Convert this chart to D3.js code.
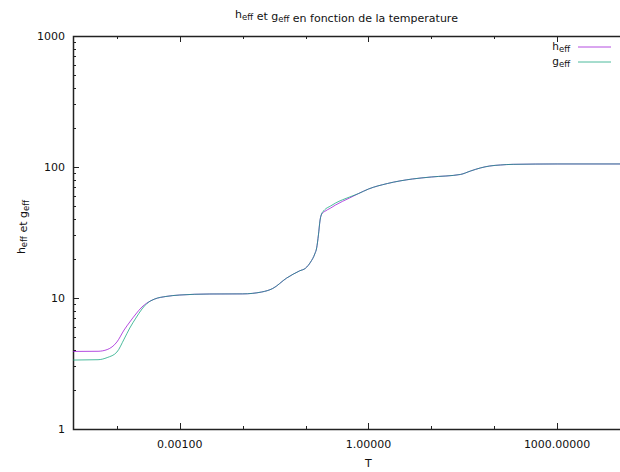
<!DOCTYPE html>
<html>
<head>
<meta charset="utf-8">
<script src="https://cdn.jsdelivr.net/npm/d3@7"></script>
<style>
  body { margin: 0; background: #fff; }
  text { font-family: 'DejaVu Sans', sans-serif; fill: #111; }
</style>
</head>
<body>
<div id="chart"></div>
<script>
// temperatures
const temps = [2e-5, 5e-5, 7e-5, 1e-4, 1.3e-4, 1.6e-4, 2e-4, 2.5e-4, 3e-4, 4e-4, 6e-4,
  1e-3, 3e-3, 0.01, 0.02, 0.03, 0.05, 0.08, 0.1, 0.12, 0.14, 0.15, 0.16, 0.17, 0.18,
  0.2, 0.25, 0.3, 0.5, 0.7, 1, 2, 5, 10, 29, 42, 60, 85, 125, 200, 1000, 1e4];
const hEff = [3.91, 3.92, 4.04, 4.62, 5.70, 6.56, 7.55, 8.54, 9.16, 9.83, 10.27,
  10.54, 10.73, 10.75, 11.11, 11.82, 14.2, 16.1, 16.9, 18.8, 21.7, 24.1, 30.3, 39.4, 43.8,
  45.7, 48.6, 51.3, 58.0, 62.8, 67.9, 74.8, 81.0, 83.9, 87.7, 93.2, 98.3, 101.8, 103.6, 104.8, 105.5, 105.5];
const gEff = [3.36, 3.38, 3.51, 3.87, 4.86, 5.90, 7.03, 8.24, 9.08, 9.83, 10.27,
  10.54, 10.73, 10.75, 11.11, 11.82, 14.2, 16.1, 16.9, 18.8, 21.7, 24.1, 30.3, 39.4, 43.8,
  47.0, 50.4, 53.1, 59.0, 62.8, 67.9, 74.8, 81.0, 83.9, 87.7, 93.2, 98.3, 101.8, 103.6, 104.8, 105.5, 105.5];
const xLabelTicks = [0.001, 1, 1000];
const yTicks = [1, 10, 100, 1000];

var width = 620, height = 472;
var pLeft = 73, pRight = 620, pTop = 36, pBottom = 429;

var svg = d3.select('#chart')
  .append('svg')
  .attr('width', width)
  .attr('height', height);

var x = d3.scaleLog().domain([2e-5, 1e4]).range([pLeft, pRight]);
var y = d3.scaleLog().domain([1, 1000]).range([pBottom, pTop]);

// minor/major ticks
var xDecades = d3.range(-4, 5).map(function(e) { return Math.pow(10, e); });
var yMinor = [];
[1, 10, 100].forEach(function(d) {
  for (var k = 2; k < 10; k++) yMinor.push(d * k);
});

var ticks = svg.append('g').attr('stroke', '#222').attr('stroke-width', 1);

xDecades.forEach(function(t) {
  var len = xLabelTicks.indexOf(t) >= 0 ? 6 : 3;
  var px = Math.round(x(t)) + 0.5;
  ticks.append('line').attr('x1', px).attr('x2', px)
    .attr('y1', pBottom).attr('y2', pBottom - len);
  ticks.append('line').attr('x1', px).attr('x2', px)
    .attr('y1', pTop).attr('y2', pTop + len);
});

yTicks.forEach(function(t) {
  var py = Math.round(y(t)) + 0.5;
  ticks.append('line').attr('x1', pLeft).attr('x2', pLeft + 6)
    .attr('y1', py).attr('y2', py);
});
yMinor.forEach(function(t) {
  var py = Math.round(y(t)) + 0.5;
  ticks.append('line').attr('x1', pLeft).attr('x2', pLeft + 3)
    .attr('y1', py).attr('y2', py);
});

// border (right edge falls off the picture)
svg.append('path')
  .attr('d', 'M' + (pRight + 2) + ',' + (pTop + 0.5) + 'H' + (pLeft + 0.5) + 'V' + (pBottom + 0.5) + 'H' + (pRight + 2))
  .attr('fill', 'none')
  .attr('stroke', '#222')
  .attr('stroke-width', 1.5);

// tick labels
svg.append('g').selectAll('text')
  .data(yTicks)
  .enter()
  .append('text')
  .attr('x', pLeft - 8)
  .attr('y', function(d) { return y(d); })
  .attr('dy', '0.35em')
  .attr('text-anchor', 'end')
  .attr('font-size', 11)
  .text(function(d) { return d; });

svg.append('g').selectAll('text')
  .data(xLabelTicks)
  .enter()
  .append('text')
  .attr('x', function(d) { return x(d); })
  .attr('y', pBottom + 15)
  .attr('dy', '0.35em')
  .attr('text-anchor', 'middle')
  .attr('font-size', 11)
  .text(function(d) { return d.toFixed(5); });

// subscript label helper
function effLabel(sel, letter) {
  sel.append('tspan').text(letter);
  sel.append('tspan').attr('font-size', 8.5).attr('dy', 2).text('eff');
  sel.append('tspan').attr('dy', -2).text('');
}

var title = svg.append('text')
  .attr('x', (pLeft + pRight) / 2)
  .attr('y', 18)
  .attr('text-anchor', 'middle')
  .attr('font-size', 11);
effLabel(title, 'h');
title.append('tspan').text(' et ');
effLabel(title, 'g');
title.append('tspan').text(' en fonction de la temperature');

svg.append('text')
  .attr('x', x(1))
  .attr('y', 467)
  .attr('text-anchor', 'middle')
  .attr('font-size', 11)
  .text('T');

var ylab = svg.append('text')
  .attr('transform', 'translate(25,227) rotate(-90)')
  .attr('text-anchor', 'middle')
  .attr('font-size', 11);
effLabel(ylab, 'h');
ylab.append('tspan').text(' et ');
effLabel(ylab, 'g');

// curves
svg.append('clipPath').attr('id', 'clip')
  .append('rect').attr('x', pLeft).attr('y', pTop).attr('width', pRight - pLeft).attr('height', pBottom - pTop);

var series = [
  { name: 'h', values: hEff, color: '#9400d3' },
  { name: 'g', values: gEff, color: '#009e73' }
];

var line = d3.line()
  .x(function(d) { return x(d[0]); })
  .y(function(d) { return y(d[1]); })
  .curve(d3.curveMonotoneX);

svg.append('g').attr('clip-path', 'url(#clip)')
  .selectAll('path')
  .data(series)
  .enter()
  .append('path')
  .attr('fill', 'none')
  .attr('stroke', function(d) { return d.color; })
  .attr('stroke-width', 1)
  .attr('stroke-opacity', 0.7)
  .attr('d', function(d) {
    return line(temps.map(function(t, i) { return [t, d.values[i]]; }));
  });

// legend
var legend = svg.append('g').selectAll('g')
  .data(series)
  .enter()
  .append('g')
  .attr('transform', function(d, i) { return 'translate(0,' + (47 + i * 15) + ')'; });

legend.append('line')
  .attr('x1', 578).attr('x2', 611)
  .attr('stroke', function(d) { return d.color; })
  .attr('stroke-opacity', 0.7)
  .attr('stroke-width', 1);

legend.append('text')
  .attr('x', 570)
  .attr('y', 0)
  .attr('dy', '0.3em')
  .attr('text-anchor', 'end')
  .attr('font-size', 10.5)
  .each(function(d) { effLabel(d3.select(this), d.name); });
</script>
</body>
</html>
